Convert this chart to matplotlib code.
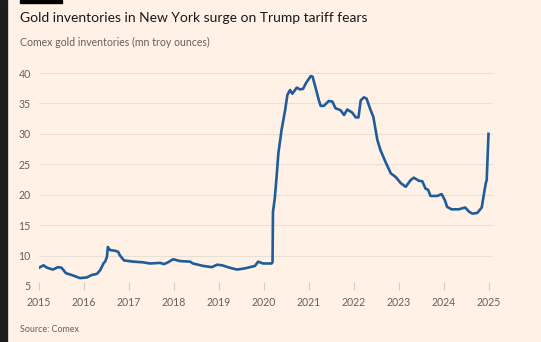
import matplotlib.pyplot as plt
from matplotlib.patches import Rectangle

# Comex gold inventories, mn troy ounces
years = [2015.0, 2015.1, 2015.18, 2015.31, 2015.42, 2015.5, 2015.6, 2015.73, 2015.84, 2015.91,
         2016.06, 2016.17, 2016.29, 2016.36, 2016.44, 2016.47, 2016.51, 2016.53, 2016.58, 2016.69,
         2016.76, 2016.8, 2016.89, 2017.1, 2017.3, 2017.47, 2017.69, 2017.78, 2017.87, 2017.98,
         2018.13, 2018.36, 2018.42, 2018.65, 2018.84, 2018.96, 2019.07, 2019.24, 2019.4, 2019.58,
         2019.8, 2019.87, 2019.98, 2020.17, 2020.19, 2020.2, 2020.24, 2020.28, 2020.32, 2020.39,
         2020.47, 2020.52, 2020.58, 2020.63, 2020.73, 2020.8, 2020.87, 2020.93, 2021.04, 2021.08,
         2021.15, 2021.22, 2021.26, 2021.33, 2021.44, 2021.52, 2021.59, 2021.7, 2021.78, 2021.85,
         2021.96, 2022.04, 2022.1, 2022.15, 2022.22, 2022.28, 2022.37, 2022.43, 2022.52, 2022.59,
         2022.7, 2022.82, 2022.93, 2023.04, 2023.15, 2023.26, 2023.33, 2023.44, 2023.52, 2023.59,
         2023.65, 2023.7, 2023.85, 2023.95, 2024.02, 2024.07, 2024.17, 2024.33, 2024.47, 2024.56,
         2024.63, 2024.74, 2024.84, 2024.89, 2024.93, 2024.95, 2024.97, 2024.99]
values = [8.0, 8.4, 8.0, 7.7, 8.1, 8.0, 7.1, 6.8, 6.5, 6.3,
          6.4, 6.8, 7.0, 7.6, 8.8, 9.0, 9.8, 11.4, 10.9, 10.8,
          10.6, 10.0, 9.2, 9.0, 8.9, 8.7, 8.8, 8.6, 8.9, 9.4,
          9.1, 9.0, 8.7, 8.3, 8.1, 8.5, 8.4, 8.0, 7.7, 7.9,
          8.3, 9.0, 8.7, 8.7, 8.9, 17.2, 19.4, 22.9, 26.8, 30.6,
          33.9, 36.4, 37.2, 36.6, 37.6, 37.3, 37.4, 38.3, 39.5, 39.4,
          37.5, 35.5, 34.6, 34.6, 35.4, 35.3, 34.2, 33.9, 33.1, 34.0,
          33.5, 32.7, 32.7, 35.5, 36.0, 35.8, 33.9, 32.8, 29.0, 27.3,
          25.4, 23.5, 22.9, 21.9, 21.3, 22.4, 22.8, 22.3, 22.2, 21.0,
          20.8, 19.8, 19.8, 20.1, 19.1, 18.0, 17.6, 17.6, 17.9, 17.2,
          16.9, 17.0, 17.9, 20.2, 21.9, 22.4, 26.2, 30.0]
xticks = list(range(2015, 2026))
yticks = [5, 10, 15, 20, 25, 30, 35, 40]

bg = '#FFF1E5'
plt.rcParams['font.family'] = ['Lato', 'DejaVu Sans']

fig = plt.figure(figsize=(5.41, 3.42), dpi=100, facecolor=bg)
ax = fig.add_axes([39/541, 56/342, 454/541, 213/342], facecolor=bg)

ax.plot(years, values, color='#1F5C99', lw=1.9, solid_joinstyle='round')

ax.set_xlim(2015, 2025.09)
ax.set_ylim(5, 40)
ax.set_xticks(xticks)
ax.set_yticks(yticks)
ax.grid(axis='y', color='#EADFD5', lw=0.8)
for s in ax.spines.values():
    s.set_visible(False)
ax.axhline(5, color='#D9CCC1', lw=0.8)
ax.tick_params(axis='y', length=0, pad=6, labelsize=7.6, labelcolor='#66605C')
ax.tick_params(axis='x', direction='inout', length=6, color='#D9CCC1', width=0.8,
               pad=5, labelsize=7.6, labelcolor='#66605C')

# header, subtitle and source
fig.text(20/541, 1 - 18/342, 'Gold inventories in New York surge on Trump tariff fears',
         fontsize=10.0, color='#1A1817', va='center', ha='left')
fig.text(20/541, 1 - 42/342, 'Comex gold inventories (mn troy ounces)',
         fontsize=7.6, color='#66605C', va='center', ha='left')
fig.text(20/541, 1 - 329/342, 'Source: Comex',
         fontsize=6.4, color='#66605C', va='center', ha='left')

# dark left edge and top bar
fig.patches.append(Rectangle((0, 0), 7/541, 1, transform=fig.transFigure,
                             color='#1C1C1C', zorder=0))
fig.patches.append(Rectangle((20/541, 1 - 3/342), 42/541, 3/342, transform=fig.transFigure,
                             color='#000000', zorder=0))

fig.savefig('out.png', dpi=100, facecolor=bg)
